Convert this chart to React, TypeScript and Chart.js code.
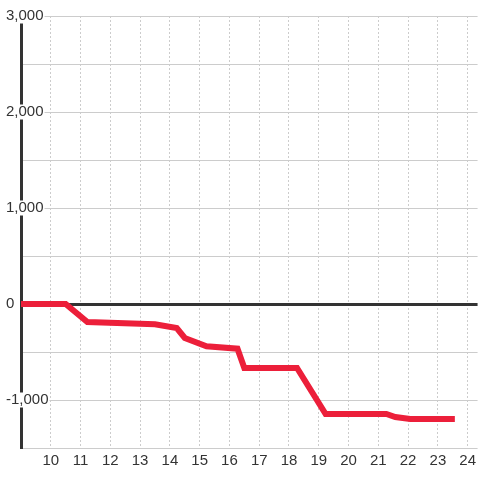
import React, { useEffect, useRef } from "react";
import { Chart, registerables } from "chart.js";

Chart.register(...registerables);

// Hours of day (x) and cumulative values (y)
const hours = [8.8, 10.5, 11.23, 13.5, 14.23, 14.5, 15.23, 16.27, 16.5, 18.27, 19.23, 21.27, 21.57, 22.07, 23.57];
const values = [0, 0, -188, -212, -250, -354, -440, -465, -667, -667, -1146, -1146, -1177, -1198, -1198];

const xMin = 9;
const xMax = 24.333;
const yMin = -1500;
const yMax = 3000;
const yStep = 500;
const yLabelStep = 1000;

export default function App() {
  const ref = useRef<HTMLCanvasElement | null>(null);

  useEffect(() => {
    if (!ref.current) return;
    const chart = new Chart(ref.current, {
      type: "line",
      data: {
        datasets: [
          {
            data: hours.map((h, i) => ({ x: h, y: values[i] })),
            borderColor: "#ec1f3a",
            borderWidth: 6,
            pointRadius: 0,
            tension: 0,
            fill: false,
          },
        ],
      },
      options: {
        animation: false,
        responsive: true,
        maintainAspectRatio: false,
        layout: { padding: { left: 6, top: 16, right: 0, bottom: 6 } },
        plugins: { legend: { display: false }, tooltip: { enabled: false } },
        scales: {
          x: {
            type: "linear",
            min: xMin,
            max: xMax,
            grid: { color: "#cccccc", lineWidth: 1, drawTicks: false },
            border: { display: false, dash: [2, 2] },
            ticks: {
              stepSize: 1,
              includeBounds: false,
              autoSkip: false,
              maxRotation: 0,
              padding: 4,
              color: "#333333",
              font: { family: "'Liberation Sans', Arial, sans-serif", size: 15 },
              callback: (v: any) => (Number.isInteger(v) && v > xMin ? String(v) : null),
            },
          },
          y: {
            type: "linear",
            min: yMin,
            max: yMax,
            afterFit: (scale: any) => {
              scale.width = 15;
            },
            grid: {
              drawTicks: false,
              color: (ctx: any) => (ctx.tick && ctx.tick.value === 0 ? "#333333" : "#cccccc"),
              lineWidth: (ctx: any) => (ctx.tick && ctx.tick.value === 0 ? 3 : 1),
            },
            border: { display: true, color: "#333333", width: 3 },
            ticks: {
              stepSize: yStep,
              mirror: true,
              crossAlign: "near",
              padding: -15,
              color: "#333333",
              font: { family: "'Liberation Sans', Arial, sans-serif", size: 15, lineHeight: 1 },
              showLabelBackdrop: (ctx: any) => ctx.tick && ctx.tick.value % yLabelStep === 0,
              backdropColor: "#ffffff",
              backdropPadding: { left: 2, right: 1, top: 0, bottom: 0 },
              callback: (v: any) => (v % yLabelStep === 0 ? Number(v).toLocaleString("en-US") : ""),
            },
          },
        },
      },
    });
    return () => chart.destroy();
  }, []);

  return (
    <div style={{ position: "fixed", left: 0, top: 0, width: 480, height: 480, background: "#fff" }}>
      <canvas ref={ref} />
    </div>
  );
}
